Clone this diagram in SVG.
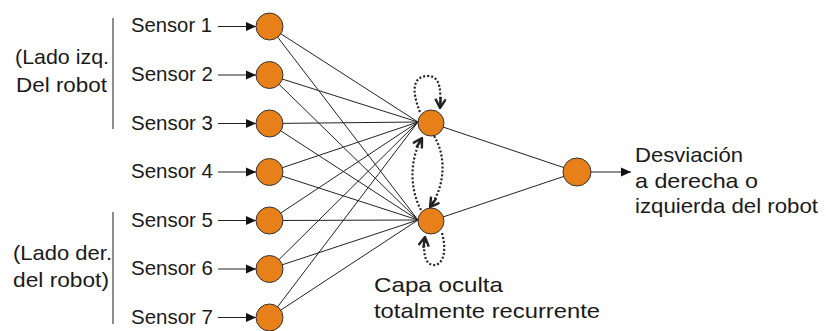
<svg xmlns="http://www.w3.org/2000/svg" width="826" height="331" viewBox="0 0 826 331">
<style>
text{font-family:"Liberation Sans",Arial,sans-serif;font-size:21px;fill:#1a1a1a}
.node{fill:#E8801A;stroke:#333;stroke-width:1}
.edge{stroke:#222;stroke-width:1;fill:none}
.arr{stroke:#222;stroke-width:1.2;fill:none}
.rec{stroke:#222;stroke-width:2.2;fill:none;stroke-dasharray:2 2}
.br{stroke:#444;stroke-width:1.2}
</style>
<defs>
<marker id="ah" viewBox="0 0 10 10" refX="10" refY="5" markerWidth="10" markerHeight="10" markerUnits="userSpaceOnUse" orient="auto">
<path d="M0,0.5 L10,5 L0,9.5 z" fill="#111"/>
</marker>
<marker id="ch" viewBox="0 0 12 12" refX="11" refY="6" markerWidth="12" markerHeight="12" markerUnits="userSpaceOnUse" orient="auto">
<path d="M2,0.8 L11,6 L2,11.2 M11,6 L0,6" fill="none" stroke="#222" stroke-width="2.4"/>
</marker>
</defs>

<g id="connectors">
<line class="edge" x1="269.5" y1="26.5" x2="418" y2="122"/>
<line class="edge" x1="269.5" y1="26.5" x2="418" y2="220"/>
<line class="edge" x1="269.5" y1="75" x2="418" y2="122"/>
<line class="edge" x1="269.5" y1="75" x2="418" y2="220"/>
<line class="edge" x1="269.5" y1="123.5" x2="418" y2="122"/>
<line class="edge" x1="269.5" y1="123.5" x2="418" y2="220"/>
<line class="edge" x1="269.5" y1="172" x2="418" y2="122"/>
<line class="edge" x1="269.5" y1="172" x2="418" y2="220"/>
<line class="edge" x1="269.5" y1="220.5" x2="418" y2="122"/>
<line class="edge" x1="269.5" y1="220.5" x2="418" y2="220"/>
<line class="edge" x1="269.5" y1="269" x2="418" y2="122"/>
<line class="edge" x1="269.5" y1="269" x2="418" y2="220"/>
<line class="edge" x1="269.5" y1="317.5" x2="418" y2="122"/>
<line class="edge" x1="269.5" y1="317.5" x2="418" y2="220"/>
<line class="edge" x1="431" y1="123" x2="577" y2="172"/>
<line class="edge" x1="431" y1="221" x2="577" y2="172"/>
<line class="arr" x1="218" y1="26.5" x2="256" y2="26.5" marker-end="url(#ah)"/>
<line class="arr" x1="218" y1="75" x2="256" y2="75" marker-end="url(#ah)"/>
<line class="arr" x1="218" y1="123.5" x2="256" y2="123.5" marker-end="url(#ah)"/>
<line class="arr" x1="218" y1="172" x2="256" y2="172" marker-end="url(#ah)"/>
<line class="arr" x1="218" y1="220.5" x2="256" y2="220.5" marker-end="url(#ah)"/>
<line class="arr" x1="218" y1="269" x2="256" y2="269" marker-end="url(#ah)"/>
<line class="arr" x1="218" y1="317.5" x2="256" y2="317.5" marker-end="url(#ah)"/>
<line class="arr" x1="591" y1="172" x2="631" y2="172" marker-end="url(#ah)"/>
<path class="rec" d="M420,112 C411,90 413,76 428,76 C441,76 441,92 440,108" marker-end="url(#ch)"/>
<path class="rec" d="M421,210 C410,190 409,160 422,138" marker-end="url(#ch)"/>
<path class="rec" d="M434,136 C446,155 446,185 430,207" marker-end="url(#ch)"/>
<path class="rec" d="M442,233 C448,255 441,266 433,265 C424,264 423,250 425,237" marker-end="url(#ch)"/>
</g>

<g id="in1"><circle class="node" cx="269.5" cy="26.5" r="13.5"/><text x="131" y="32" textLength="81" lengthAdjust="spacingAndGlyphs">Sensor 1</text></g>
<g id="in2"><circle class="node" cx="269.5" cy="75" r="13.5"/><text x="131" y="81" textLength="82" lengthAdjust="spacingAndGlyphs">Sensor 2</text></g>
<g id="in3"><circle class="node" cx="269.5" cy="123.5" r="13.5"/><text x="131" y="130" textLength="82" lengthAdjust="spacingAndGlyphs">Sensor 3</text></g>
<g id="in4"><circle class="node" cx="269.5" cy="172" r="13.5"/><text x="131" y="178" textLength="82" lengthAdjust="spacingAndGlyphs">Sensor 4</text></g>
<g id="in5"><circle class="node" cx="269.5" cy="220.5" r="13.5"/><text x="131" y="226.5" textLength="82" lengthAdjust="spacingAndGlyphs">Sensor 5</text></g>
<g id="in6"><circle class="node" cx="269.5" cy="269" r="13.5"/><text x="131" y="275" textLength="82" lengthAdjust="spacingAndGlyphs">Sensor 6</text></g>
<g id="in7"><circle class="node" cx="269.5" cy="317.5" r="13.5"/><text x="131" y="323.5" textLength="82" lengthAdjust="spacingAndGlyphs">Sensor 7</text></g>

<g id="hidden1"><circle class="node" cx="431" cy="123" r="13"/></g>
<g id="hidden2"><circle class="node" cx="431" cy="221" r="13"/></g>
<g id="output"><circle class="node" cx="577" cy="172" r="14"/></g>

<g id="left-group">
<line class="br" x1="113" y1="18" x2="113" y2="129"/>
<text x="15" y="64" textLength="94" lengthAdjust="spacingAndGlyphs">(Lado izq.</text>
<text x="16" y="92" textLength="91" lengthAdjust="spacingAndGlyphs">Del robot</text>
</g>
<g id="right-group">
<line class="br" x1="113" y1="212" x2="113" y2="324"/>
<text x="13" y="260" textLength="99" lengthAdjust="spacingAndGlyphs">(Lado der.</text>
<text x="13" y="287" textLength="96" lengthAdjust="spacingAndGlyphs">del robot)</text>
</g>
<g id="output-label">
<text x="635" y="162" textLength="108" lengthAdjust="spacingAndGlyphs">Desviación</text>
<text x="635" y="187.5" textLength="123" lengthAdjust="spacingAndGlyphs">a derecha o</text>
<text x="635" y="212.5" textLength="183" lengthAdjust="spacingAndGlyphs">izquierda del robot</text>
</g>
<g id="hidden-label">
<text x="374" y="292" textLength="129" lengthAdjust="spacingAndGlyphs">Capa oculta</text>
<text x="374" y="317.5" textLength="226" lengthAdjust="spacingAndGlyphs">totalmente recurrente</text>
</g>
</svg>
